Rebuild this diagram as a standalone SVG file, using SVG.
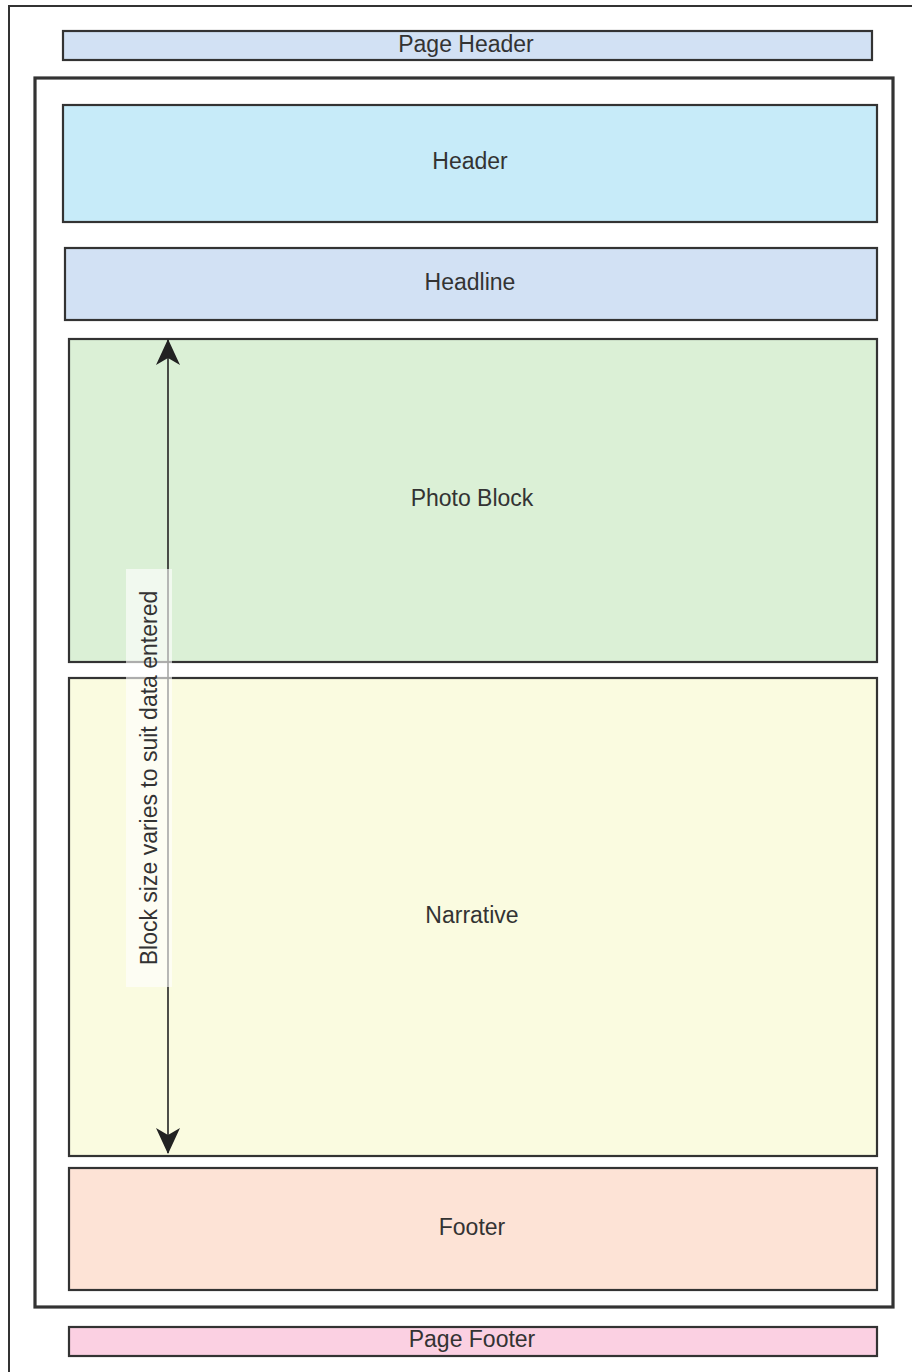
<svg xmlns="http://www.w3.org/2000/svg" width="912" height="1372" viewBox="0 0 912 1372">
<defs>
<style>
.box{stroke:#333;stroke-width:2.2}
.lbl{font-family:"Liberation Sans",Arial,sans-serif;font-size:23px;fill:#333;text-anchor:middle}
</style>
<marker id="ah" viewBox="0 0 26 24" refX="25" refY="12" markerWidth="26" markerHeight="24" markerUnits="userSpaceOnUse" orient="auto-start-reverse">
<path d="M0,0 L26,12 L0,24 L7,12 Z" fill="#222"/>
</marker>
</defs>
<rect width="912" height="1372" fill="#fff"/>
<g id="page">
<rect x="9" y="6" width="920" height="1390" fill="none" stroke="#333" stroke-width="2"/>
</g>
<g id="container">
<rect x="35" y="78" width="858" height="1229" fill="none" stroke="#333" stroke-width="3.2"/>
</g>
<g id="page-header">
<rect class="box" x="63" y="31" width="809" height="29" fill="#d2e1f4"/>
<text class="lbl" x="466" y="52">Page Header</text>
</g>
<g id="header">
<rect class="box" x="63" y="105" width="814" height="117" fill="#c7ebf9"/>
<text class="lbl" x="470" y="169">Header</text>
</g>
<g id="headline">
<rect class="box" x="65" y="248" width="812" height="72" fill="#d2e1f4"/>
<text class="lbl" x="470" y="290">Headline</text>
</g>
<g id="photo-block">
<rect class="box" x="69" y="339" width="808" height="323" fill="#dbf0d6"/>
<text class="lbl" x="472" y="506">Photo Block</text>
</g>
<g id="narrative">
<rect class="box" x="69" y="678" width="808" height="478" fill="#fafbe0"/>
<text class="lbl" x="472" y="923">Narrative</text>
</g>
<g id="footer">
<rect class="box" x="69" y="1168" width="808" height="122" fill="#fde3d6"/>
<text class="lbl" x="472" y="1235">Footer</text>
</g>
<g id="page-footer">
<rect class="box" x="69" y="1327" width="808" height="29" fill="#fbd0e2"/>
<text class="lbl" x="472" y="1347">Page Footer</text>
</g>
<g id="connectors">
<line x1="168" y1="1153" x2="168" y2="340" stroke="#222" stroke-width="1.6" marker-start="url(#ah)" marker-end="url(#ah)"/>
</g>
<g id="size-label">
<rect x="126" y="569" width="46" height="418" fill="#fff" fill-opacity="0.6"/>
<text class="lbl" transform="translate(157,778) rotate(-90)" x="0" y="0">Block size varies to suit data entered</text>
</g>
</svg>
